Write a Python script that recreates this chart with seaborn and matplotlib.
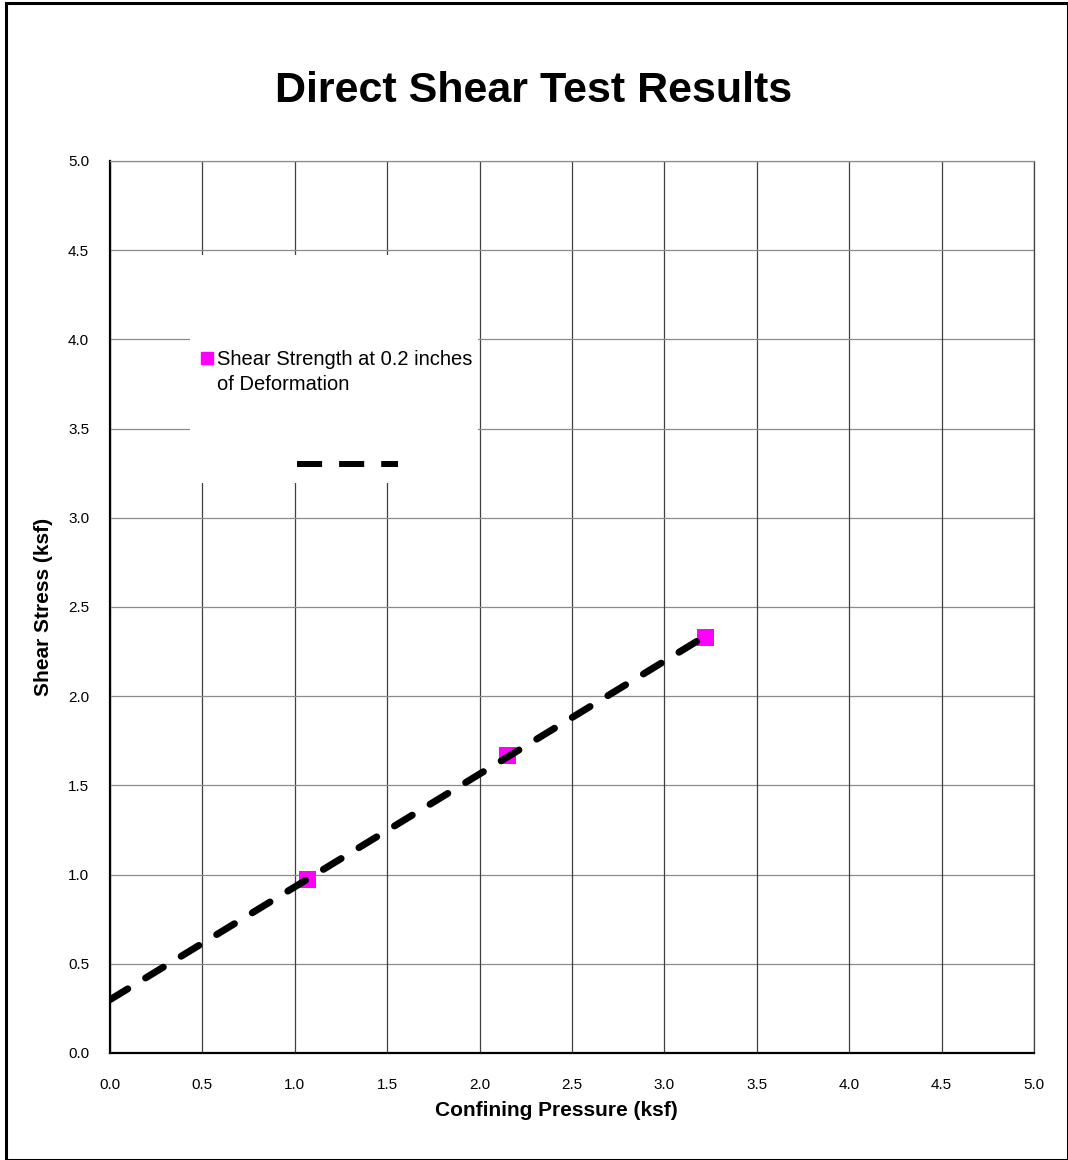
import numpy as np
import pandas as pd
import matplotlib.pyplot as plt
import seaborn as sns
from matplotlib.lines import Line2D
from matplotlib.patches import Rectangle

# Data
confining = [1.07, 2.15, 3.22]
shear = [0.97, 1.67, 2.33]
ticks = [0.0, 0.5, 1.0, 1.5, 2.0, 2.5, 3.0, 3.5, 4.0, 4.5, 5.0]
series_label = ["Shear Strength at 0.2 inches", "of Deformation"]

df = pd.DataFrame({"x": confining, "y": shear})

# linear trend line from 0 to the last point
slope, intercept = np.polyfit(df["x"], df["y"], 1)
trend = pd.DataFrame({"x": [0.0, max(confining)]})
trend["y"] = intercept + slope * trend["x"]

sns.set_style("white")
plt.rcParams["font.family"] = ["Liberation Sans", "DejaVu Sans"]
plt.rcParams["text.color"] = "black"
plt.rcParams["axes.labelcolor"] = "black"

fig = plt.figure(figsize=(10.68, 11.6), dpi=100)
ax = fig.add_axes([110 / 1068, 107 / 1160, 924 / 1068, 892 / 1160])

# grid
for t in ticks:
    ax.axvline(t, color="#404040", lw=0.9, zorder=0)
    ax.axhline(t, color="#8c8c8c", lw=0.9, zorder=0)

# white box behind legend
ax.add_patch(Rectangle((0.087, 0.639), 0.311, 0.256, transform=ax.transAxes,
                       facecolor="white", edgecolor="none", zorder=1))

sns.scatterplot(data=df, x="x", y="y", marker="s", s=150, color="#ff00ff",
                edgecolor="none", ax=ax, zorder=3, legend=False)
sns.lineplot(data=trend, x="x", y="y", ax=ax, color="black", lw=5,
             dashes=False, zorder=4)
ln = ax.lines[-1]
ln.set_dashes((3, 3))
ln.set_dash_capstyle("round")

ax.set_xlim(0, 5)
ax.set_ylim(0, 5)
ax.set_xticks(ticks)
ax.set_yticks(ticks)
ax.set_xticklabels([f"{t:.1f}" for t in ticks])
ax.set_yticklabels([f"{t:.1f}" for t in ticks])
ax.tick_params(axis="both", direction="out", length=5, width=1, color="black",
               labelsize=11, labelcolor="black")
ax.tick_params(axis="x", pad=13)
ax.tick_params(axis="y", pad=10)

for side in ["left", "bottom"]:
    ax.spines[side].set_color("black")
    ax.spines[side].set_linewidth(1.6)
ax.spines["top"].set_color("#8c8c8c")
ax.spines["top"].set_linewidth(0.9)
ax.spines["right"].set_color("#404040")
ax.spines["right"].set_linewidth(0.9)

ax.set_xlabel("Confining Pressure (ksf)", fontsize=15, fontweight="bold", va="center")
ax.set_ylabel("Shear Stress (ksf)", fontsize=15, fontweight="bold", va="center")
ax.xaxis.set_label_coords(0.483, -0.064)
ax.yaxis.set_label_coords(-0.0717, 0.5)

# legend: marker entry (label wraps onto a second row) and the trend line entry
h1 = Line2D([], [], marker="s", color="#ff00ff", ls="none", markersize=8)
h_blank = Line2D([], [], ls="none")
leg1 = ax.legend([h1, h_blank], series_label, loc="upper left",
                 bbox_to_anchor=(0.0993, 0.7878), frameon=False, fontsize=14.5,
                 handlelength=0.5, handletextpad=0.25, labelspacing=0.3,
                 borderpad=0, borderaxespad=0)
leg1.set_zorder(5)
ax.add_artist(leg1)
h2 = Line2D([], [], color="black", lw=4.3, ls=(0, (4.2, 2.85)))
leg2 = ax.legend([h2], [""], loc="center left", bbox_to_anchor=(0.2024, 0.658),
                 frameon=False, fontsize=13, handlelength=5.6, handletextpad=0,
                 borderpad=0, borderaxespad=0)
leg2.set_zorder(5)

fig.suptitle("Direct Shear Test Results", fontsize=31, fontweight="bold", y=0.9214, va="center")

# outer chart border
fig.patches.append(Rectangle((6 / 1068, 0), 1 - 6 / 1068, 1 - 3 / 1160,
                             transform=fig.transFigure, fill=False,
                             edgecolor="black", lw=2.2))

fig.savefig("out.png", dpi=100)
